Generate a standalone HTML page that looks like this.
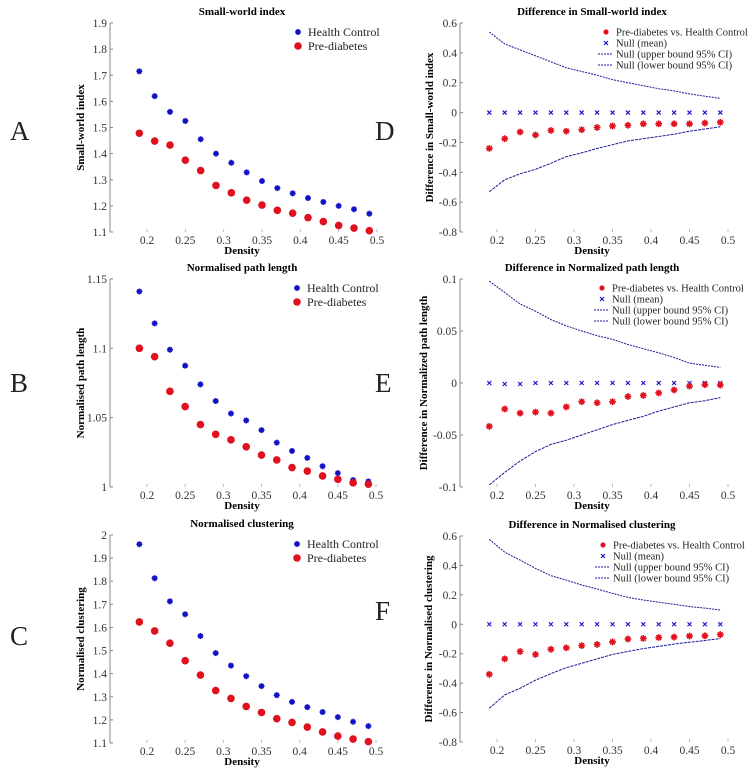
<!DOCTYPE html>
<html><head><meta charset="utf-8">
<style>
html,body{margin:0;padding:0;background:#fff;}
svg{display:block;font-family:"Liberation Serif",serif;}
.tick{font-size:11.5px;fill:#333;}
.ttl{font-size:11px;font-weight:bold;fill:#000;}
.lbl{font-size:11px;font-weight:bold;fill:#000;}
.leg{font-size:10.5px;fill:#222;}
.big{font-size:27px;fill:#222;}
</style></head>
<body>
<svg id="fig" width="752" height="774" viewBox="0 0 752 774"></svg>
<script>
const density=[0.19,0.21,0.23,0.25,0.27,0.29,0.31,0.33,0.35,0.37,0.39,0.41,0.43,0.45,0.47,0.49];
const xTicks=[0.2,0.25,0.3,0.35,0.4,0.45,0.5];
const swHC=[1.715,1.62,1.56,1.525,1.455,1.40,1.365,1.328,1.295,1.268,1.248,1.23,1.215,1.20,1.187,1.17];
const swPD=[1.478,1.448,1.433,1.375,1.335,1.278,1.25,1.222,1.203,1.183,1.172,1.155,1.14,1.125,1.115,1.105];
const swTicks=[1.1,1.2,1.3,1.4,1.5,1.6,1.7,1.8,1.9];
const plHC=[1.141,1.118,1.099,1.0875,1.074,1.062,1.053,1.048,1.041,1.032,1.026,1.021,1.015,1.010,1.005,1.004];
const plPD=[1.100,1.094,1.069,1.058,1.045,1.038,1.034,1.029,1.023,1.0195,1.014,1.0115,1.008,1.0055,1.003,1.002];
const plTicks=[1,1.05,1.1,1.15];
const clHC=[1.96,1.813,1.713,1.657,1.563,1.489,1.435,1.389,1.346,1.307,1.278,1.255,1.234,1.212,1.192,1.173];
const clPD=[1.624,1.585,1.532,1.456,1.394,1.327,1.293,1.258,1.232,1.205,1.189,1.169,1.148,1.130,1.117,1.106];
const clTicks=[1.1,1.2,1.3,1.4,1.5,1.6,1.7,1.8,1.9,2];
const dSW=[-0.24,-0.175,-0.13,-0.15,-0.12,-0.125,-0.115,-0.10,-0.09,-0.085,-0.075,-0.075,-0.075,-0.075,-0.07,-0.065];
const dSWmean=[0,0,0,0,0,0,0,0,0,0,0,0,0,0,0,0];
const dSWup=[0.54,0.46,0.42,0.38,0.34,0.30,0.275,0.25,0.22,0.20,0.18,0.16,0.145,0.125,0.11,0.095];
const dSWlo=[-0.53,-0.45,-0.41,-0.38,-0.34,-0.295,-0.27,-0.24,-0.215,-0.19,-0.175,-0.16,-0.145,-0.125,-0.11,-0.095];
const dTicks=[-0.8,-0.6,-0.4,-0.2,0,0.2,0.4,0.6];
const dPL=[-0.0417,-0.025,-0.029,-0.028,-0.029,-0.023,-0.018,-0.019,-0.018,-0.013,-0.012,-0.0096,-0.0067,-0.003,-0.0016,-0.002];
const dPLmean=[0,-0.001,-0.001,0,0,0,0,0,0,0,0,0,0,0,0,0];
const dPLup=[0.098,0.087,0.076,0.069,0.061,0.055,0.050,0.0455,0.042,0.037,0.033,0.029,0.0245,0.019,0.017,0.015];
const dPLlo=[-0.098,-0.086,-0.075,-0.066,-0.059,-0.055,-0.050,-0.045,-0.040,-0.036,-0.032,-0.027,-0.023,-0.019,-0.017,-0.014];
const dPLTicks=[-0.1,-0.05,0,0.05,0.1];
const dCL=[-0.34,-0.235,-0.185,-0.205,-0.17,-0.16,-0.145,-0.137,-0.12,-0.10,-0.096,-0.09,-0.087,-0.08,-0.078,-0.07];
const dCLmean=[0,0,0,0,0,0,0,0,0,0,0,0,0,0,0,0];
const dCLup=[0.577,0.49,0.436,0.38,0.33,0.30,0.267,0.24,0.21,0.183,0.165,0.15,0.136,0.12,0.11,0.097];
const dCLlo=[-0.57,-0.48,-0.435,-0.38,-0.335,-0.295,-0.265,-0.235,-0.205,-0.185,-0.165,-0.15,-0.135,-0.122,-0.11,-0.097];

const svg=document.getElementById('fig');
const NS='http://www.w3.org/2000/svg';
function mk(tag,attrs,parent,text){const e=document.createElementNS(NS,tag);for(const k in attrs)e.setAttribute(k,attrs[k]);if(text!==undefined)e.textContent=text;(parent||svg).appendChild(e);return e;}
function star(g,x,y,col,s){mk('path',{d:`M${x-s},${y}H${x+s}M${x},${y-s}V${y+s}M${x-s*0.7},${y-s*0.7}L${x+s*0.7},${y+s*0.7}M${x-s*0.7},${y+s*0.7}L${x+s*0.7},${y-s*0.7}`,stroke:col,'stroke-width':1.6,fill:'none'},g);}
function cross(g,x,y,col){mk('path',{d:`M${x-2},${y-2}L${x+2},${y+2}M${x-2},${y+2}L${x+2},${y-2}`,stroke:col,'stroke-width':1.1,fill:'none'},g);}

function panel(p){
  const g=mk('g',{});
  
  
  const sx=v=>p.x02+(v-0.2)*(p.x05-p.x02)/0.3;
  const sy=v=>p.bot-(v-p.ymin)*(p.bot-p.top)/(p.ymax-p.ymin);
  const ax=mk('line',{x1:p.ax,y1:p.top,x2:p.ax,y2:p.bot,stroke:'#888','stroke-width':1},g);
  
  
  p.yTicks.forEach(t=>{
    mk('line',{x1:p.ax,y1:sy(t),x2:p.ax+3,y2:sy(t),stroke:'#888'},g);
    const tl=mk('text',{x:p.ax-3,y:sy(t)+4,'text-anchor':'end',class:'tick'},g,String(t));
    
    
  });
  xTicks.forEach(t=>{
    mk('line',{x1:sx(t),y1:p.bot,x2:sx(t),y2:p.bot-3,stroke:'#bbb'},g);
    const tl=mk('text',{x:sx(t),y:p.bot+12,'text-anchor':'middle',class:'tick'},g,String(t));
    
    
  });
  const t=mk('text',{x:p.tx,y:p.top-8,'text-anchor':'middle',class:'ttl'},g,p.title);
  
  
  const xl=mk('text',{x:p.tx,y:p.bot+22,'text-anchor':'middle',class:'lbl'},g,'Density');
  
  
  const ym=(p.top+p.bot)/2;
  const yl=mk('text',{x:p.ylx,y:ym,'text-anchor':'middle',class:'lbl',transform:`rotate(-90 ${p.ylx} ${ym})`},g,p.ylabel);
  
  
  const L=mk('text',{x:p.letX,y:p.letY,class:'big'},g,p.letter);
  
  
  const lx=p.legX, ly=p.top+9;
  if(p.type==='raw'){
    p.hc.forEach((v,i)=>star(g,sx(density[i]),sy(v),'#1010c8',3));
    p.pd.forEach((v,i)=>{const c=mk('circle',{cx:sx(density[i]),cy:sy(v),r:3.8,fill:'#e0101e'},g);
      
      });
    star(g,lx,ly,'#1010c8',3);
    const a=mk('text',{x:lx+10,y:ly+4,class:'leg',style:'font-size:12px'},g,'Health Control');
    
    
    mk('circle',{cx:lx,cy:ly+14,r:3.8,fill:'#e0101e'},g);
    const b=mk('text',{x:lx+10,y:ly+18,class:'leg',style:'font-size:12px'},g,'Pre-diabetes');
    
    
  } else {
    const line=arr=>arr.map((v,i)=>(i?'L':'M')+sx(density[i]).toFixed(1)+','+sy(v).toFixed(1)).join('');
    const u=mk('path',{d:line(p.up),fill:'none',stroke:'#1a1a9a','stroke-width':1,'stroke-dasharray':'2,1'},g);
    
    
    const lo=mk('path',{d:line(p.lo),fill:'none',stroke:'#1a1a9a','stroke-width':1,'stroke-dasharray':'3,1'},g);
    
    
    p.mean.forEach((v,i)=>cross(g,sx(density[i]),sy(v),'#1010c8'));
    p.diff.forEach((v,i)=>star(g,sx(density[i]),sy(v),'#e0101e',3.4));
    const labs=['Pre-diabetes vs. Health Control','Null (mean)','Null (upper bound 95% CI)','Null (lower bound 95% CI)'];
    labs.forEach((s,k)=>{
      const yy=ly+k*11;
      if(k===0)star(g,lx,yy,'#e0101e',2.6);
      else if(k===1)cross(g,lx,yy,'#1010c8');
      else mk('line',{x1:lx-8,y1:yy,x2:lx+7,y2:yy,stroke:'#1a1a9a','stroke-dasharray':'2,1'},g);
      const e=mk('text',{x:lx+10,y:yy+3.5,class:'leg'},g,s);
      
      
    });
  }
}

panel({name:'panel-a',type:'raw',ax:110,top:23,bot:232,x02:147,x05:377,ymin:1.1,ymax:1.9,yTicks:swTicks,title:'Small-world index',ylabel:'Small-world index',tx:242,ylx:84,letter:'A',letX:10,letY:140,legX:298,hc:swHC,pd:swPD});
panel({name:'panel-b',type:'raw',ax:110,top:279,bot:487,x02:147,x05:376,ymin:1,ymax:1.15,yTicks:plTicks,title:'Normalised path length',ylabel:'Normalised path length',tx:242,ylx:84,letter:'B',letX:10,letY:392,legX:297,hc:plHC,pd:plPD});
panel({name:'panel-c',type:'raw',ax:110,top:535,bot:743,x02:147,x05:376,ymin:1.1,ymax:2,yTicks:clTicks,title:'Normalised clustering',ylabel:'Normalised clustering',tx:242,ylx:84,letter:'C',letX:10,letY:645,legX:297,hc:clHC,pd:clPD});
panel({name:'panel-d',type:'diff',ax:460,top:23,bot:232,x02:497,x05:728,ymin:-0.8,ymax:0.6,yTicks:dTicks,title:'Difference in Small-world index',ylabel:'Difference in Small-world index',tx:592,ylx:433,letter:'D',letX:375,letY:140,legX:606,diff:dSW,mean:dSWmean,up:dSWup,lo:dSWlo});
panel({name:'panel-e',type:'diff',ax:460,top:279,bot:487,x02:497,x05:728,ymin:-0.1,ymax:0.1,yTicks:dPLTicks,title:'Difference in Normalized path length',ylabel:'Difference in Normalized path length',tx:592,ylx:427,letter:'E',letX:375,letY:392,legX:602,diff:dPL,mean:dPLmean,up:dPLup,lo:dPLlo});
panel({name:'panel-f',type:'diff',ax:460,top:536,bot:742,x02:497,x05:728,ymin:-0.8,ymax:0.6,yTicks:dTicks,title:'Difference in Normalised clustering',ylabel:'Difference in Normalised clustering',tx:592,ylx:432,letter:'F',letX:375,letY:620,legX:603,diff:dCL,mean:dCLmean,up:dCLup,lo:dCLlo});
</script>
</body></html>
